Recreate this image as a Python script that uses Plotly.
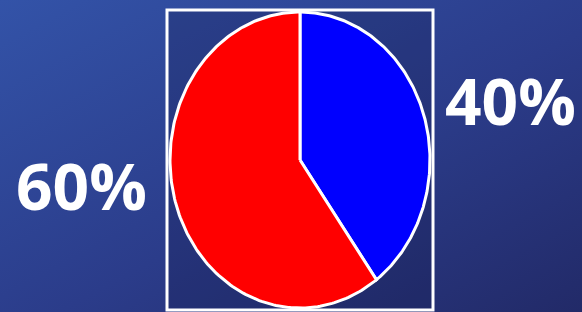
import numpy as np
import plotly.graph_objects as go

labels = ["40%", "60%"]
values = [40, 60]
colors = ["#0000ff", "#ff0000"]

W, H = 582, 312
cx, cy = 300, 160      # pie centre in pixels
rx, ry = 130, 148      # pie radii in pixels

fig = go.Figure()

total = sum(values)
start = 0.0
for lab, v, c in zip(labels, values, colors):
    frac = v / total
    th = np.linspace(start, start + frac * 2 * np.pi, 200)
    xs = np.concatenate([[0], np.sin(th), [0]])
    ys = np.concatenate([[0], np.cos(th), [0]])
    fig.add_trace(go.Scatter(x=xs, y=ys, mode="lines", fill="toself",
                             fillcolor=c, line=dict(color="white", width=3),
                             hoverinfo="text", text=lab, showlegend=False))
    start += frac * 2 * np.pi

bg = ("data:image/svg+xml;utf8,<svg xmlns='http://www.w3.org/2000/svg' width='582' height='312'>"
      "<defs><linearGradient id='g' x1='0' y1='0' x2='1' y2='1'>"
      "<stop offset='0' stop-color='%233353a8'/><stop offset='0.55' stop-color='%232b3c8a'/>"
      "<stop offset='1' stop-color='%23222a68'/></linearGradient></defs>"
      "<rect width='582' height='312' fill='url(%23g)'/></svg>")

fig.update_layout(
    width=W, height=H,
    margin=dict(l=0, r=0, t=0, b=0),
    paper_bgcolor="#2b3b88",
    plot_bgcolor="rgba(0,0,0,0)",
    xaxis=dict(range=[-cx / rx, (W - cx) / rx], visible=False, fixedrange=True),
    yaxis=dict(range=[-(H - cy) / ry, cy / ry], visible=False, fixedrange=True),
    images=[dict(source=bg, xref="paper", yref="paper", x=0, y=1, sizex=1, sizey=1,
                 xanchor="left", yanchor="top", sizing="stretch", layer="below")],
    shapes=[dict(type="rect", xref="paper", yref="paper",
                 x0=167 / W, x1=433 / W, y0=1 - 310 / H, y1=1 - 10 / H,
                 line=dict(color="white", width=3), fillcolor="rgba(20,25,70,0.25)",
                 layer="below")],
    annotations=[
        dict(text="<b>60%</b>", x=81 / W, y=1 - 185 / H, xref="paper", yref="paper",
             xanchor="center", yanchor="middle",
             showarrow=False, font=dict(family="Open Sans", size=64, color="white")),
        dict(text="<b>40%</b>", x=510 / W, y=1 - 101 / H, xref="paper", yref="paper",
             xanchor="center", yanchor="middle",
             showarrow=False, font=dict(family="Open Sans", size=64, color="white")),
    ],
)

fig.write_html("out.html", config={"displayModeBar": False},
               post_script="document.body.style.margin='0';document.body.style.overflow='hidden';")
